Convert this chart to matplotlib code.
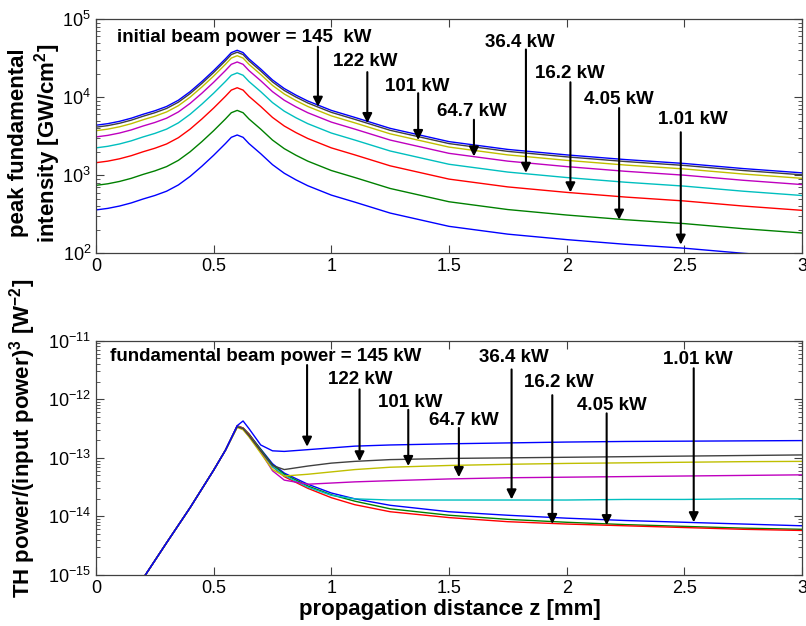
import numpy as np
import matplotlib
matplotlib.use("Agg")
from matplotlib import pyplot as plt
from matplotlib.ticker import LogLocator, NullFormatter

plt.rcParams['font.family'] = ['Liberation Sans', 'DejaVu Sans']
plt.rcParams['mathtext.fontset'] = 'custom'
plt.rcParams['mathtext.rm'] = 'Liberation Sans'
plt.rcParams['mathtext.bf'] = 'Liberation Sans:bold'

# beam powers, listed in plotting order (lowest first)
powers = ['1.01 kW', '4.05 kW', '16.2 kW', '36.4 kW', '64.7 kW', '101 kW', '122 kW', '145 kW']
colors = ['#0000ff', '#008000', '#ff0000', '#00bfbf', '#bf00bf', '#bfbf00', '#404040', '#0000ff']

# top panel: log10 of peak fundamental intensity [GW/cm^2]
z_top = [0, 0.05, 0.1, 0.15, 0.2, 0.25, 0.3, 0.35, 0.4, 0.45, 0.5, 0.55, 0.575, 0.6, 0.625,
         0.65, 0.7, 0.75, 0.8, 0.85, 0.9, 1.0, 1.1, 1.25, 1.5, 1.75, 2.0, 2.25, 2.5, 2.75, 3.0]
logI_1p01 = [2.555, 2.575, 2.605, 2.645, 2.695, 2.74, 2.795, 2.875, 2.985, 3.115, 3.255, 3.405,
             3.485, 3.515, 3.485, 3.405, 3.275, 3.135, 3.025, 2.94, 2.865, 2.745, 2.655, 2.515,
             2.345, 2.245, 2.175, 2.115, 2.065, 2.0, 1.945]
logI_4p05 = [2.87, 2.89, 2.92, 2.96, 3.01, 3.055, 3.11, 3.19, 3.30, 3.43, 3.57, 3.72, 3.80, 3.83,
             3.80, 3.72, 3.59, 3.45, 3.34, 3.255, 3.18, 3.06, 2.97, 2.83, 2.66, 2.56, 2.49, 2.43,
             2.38, 2.315, 2.26]
logI_16p2 = [3.16, 3.18, 3.21, 3.25, 3.30, 3.345, 3.40, 3.48, 3.59, 3.72, 3.86, 4.01, 4.09, 4.12,
             4.09, 4.01, 3.88, 3.74, 3.63, 3.545, 3.47, 3.35, 3.26, 3.12, 2.95, 2.85, 2.78, 2.72,
             2.67, 2.605, 2.55]
logI_36p4 = [3.35, 3.37, 3.40, 3.44, 3.49, 3.535, 3.59, 3.67, 3.78, 3.91, 4.05, 4.20, 4.28, 4.31,
             4.28, 4.20, 4.07, 3.93, 3.82, 3.735, 3.66, 3.54, 3.45, 3.31, 3.14, 3.04, 2.97, 2.91,
             2.86, 2.795, 2.74]
logI_64p7 = [3.49, 3.51, 3.54, 3.58, 3.63, 3.675, 3.73, 3.81, 3.92, 4.05, 4.19, 4.34, 4.42, 4.45,
             4.42, 4.34, 4.21, 4.07, 3.96, 3.875, 3.80, 3.68, 3.59, 3.45, 3.28, 3.18, 3.11, 3.05,
             3.00, 2.935, 2.88]
logI_101 = [3.57, 3.59, 3.62, 3.66, 3.71, 3.755, 3.81, 3.89, 4.00, 4.13, 4.27, 4.42, 4.50, 4.53,
            4.50, 4.42, 4.29, 4.15, 4.04, 3.955, 3.88, 3.76, 3.67, 3.53, 3.36, 3.26, 3.19, 3.13,
            3.08, 3.015, 2.96]
logI_122 = [3.615, 3.635, 3.665, 3.705, 3.755, 3.80, 3.855, 3.935, 4.045, 4.175, 4.315, 4.465,
            4.545, 4.575, 4.545, 4.465, 4.335, 4.195, 4.085, 4.00, 3.925, 3.805, 3.715, 3.575,
            3.405, 3.305, 3.235, 3.175, 3.125, 3.06, 3.005]
logI_145 = [3.64, 3.66, 3.69, 3.73, 3.78, 3.825, 3.88, 3.96, 4.07, 4.20, 4.34, 4.49, 4.57, 4.60,
            4.57, 4.49, 4.36, 4.22, 4.11, 4.025, 3.95, 3.83, 3.74, 3.60, 3.43, 3.33, 3.26, 3.20,
            3.15, 3.085, 3.03]

# bottom panel: log10 of TH power/(input power)^3 [W^-2]
z_bot = [0, 0.1, 0.2, 0.3, 0.4, 0.5, 0.55, 0.6, 0.625, 0.65, 0.7, 0.75, 0.8, 0.9, 1.0, 1.1,
         1.25, 1.5, 1.75, 2.0, 2.25, 2.5, 2.75, 3.0]
logT_1p01 = [-16.3, -15.68, -15.06, -14.45, -13.85, -13.21, -12.87, -12.47, -12.50, -12.60, -12.85,
             -13.10, -13.26, -13.45, -13.60, -13.70, -13.81, -13.92, -13.98, -14.03, -14.07, -14.10,
             -14.13, -14.16]
logT_4p05 = [-16.3, -15.68, -15.06, -14.45, -13.85, -13.21, -12.87, -12.46, -12.49, -12.59, -12.86,
             -13.12, -13.28, -13.48, -13.63, -13.74, -13.87, -13.98, -14.05, -14.10, -14.14, -14.17,
             -14.20, -14.22]
logT_16p2 = [-16.3, -15.68, -15.06, -14.45, -13.85, -13.21, -12.87, -12.45, -12.49, -12.60, -12.88,
             -13.15, -13.32, -13.52, -13.68, -13.80, -13.92, -14.02, -14.09, -14.13, -14.16, -14.19,
             -14.22, -14.24]
logT_36p4 = [-16.3, -15.68, -15.06, -14.45, -13.85, -13.21, -12.87, -12.46, -12.50, -12.62, -12.88,
             -13.15, -13.30, -13.50, -13.64, -13.70, -13.72, -13.72, -13.72, -13.72, -13.71, -13.71,
             -13.70, -13.70]
logT_64p7 = [-16.3, -15.68, -15.06, -14.45, -13.85, -13.21, -12.87, -12.47, -12.51, -12.63, -12.90,
             -13.22, -13.38, -13.45, -13.43, -13.41, -13.39, -13.36, -13.34, -13.33, -13.32, -13.31,
             -13.30, -13.29]
logT_101 = [-16.3, -15.68, -15.06, -14.45, -13.85, -13.21, -12.87, -12.48, -12.52, -12.64, -12.92,
            -13.20, -13.31, -13.28, -13.24, -13.20, -13.16, -13.13, -13.11, -13.095, -13.085,
            -13.075, -13.065, -13.06]
logT_122 = [-16.3, -15.68, -15.06, -14.45, -13.85, -13.21, -12.87, -12.47, -12.50, -12.62, -12.88,
            -13.13, -13.20, -13.14, -13.09, -13.06, -13.03, -13.01, -13.00, -12.99, -12.98, -12.97,
            -12.96, -12.95]
logT_145 = [-16.3, -15.68, -15.06, -14.45, -13.85, -13.21, -12.87, -12.45, -12.37, -12.50, -12.78,
            -12.88, -12.89, -12.86, -12.83, -12.80, -12.78, -12.76, -12.745, -12.73, -12.72, -12.715,
            -12.71, -12.705]

# annotations: label text, text position (z, log10), arrow z, arrow tail / tip (log10)
top_labels = ['initial beam power = 145  kW', '122 kW', '101 kW', '64.7 kW',
              '36.4 kW', '16.2 kW', '4.05 kW', '1.01 kW']
top_text_z = [0.088, 1.007, 1.228, 1.447, 1.652, 1.865, 2.073, 2.387]
top_text_log = [4.76, 4.45, 4.13, 3.815, 4.70, 4.30, 3.965, 3.71]
top_arrow_z = [0.943, 1.153, 1.369, 1.606, 1.827, 2.016, 2.223, 2.485]
top_arrow_tail = [4.645, 4.32, 4.05, 3.71, 4.61, 4.19, 3.86, 3.55]
top_arrow_tip = [3.876, 3.667, 3.45, 3.24, 3.03, 2.78, 2.43, 2.11]

bot_labels = ['fundamental beam power = 145 kW', '122 kW', '101 kW', '64.7 kW',
              '36.4 kW', '16.2 kW', '4.05 kW', '1.01 kW']
bot_text_z = [0.059, 0.985, 1.198, 1.414, 1.627, 1.818, 2.043, 2.408]
bot_text_log = [-11.27, -11.67, -12.06, -12.365, -11.28, -11.71, -12.10, -11.32]
bot_arrow_z = [0.897, 1.12, 1.327, 1.542, 1.766, 1.939, 2.17, 2.54]
bot_arrow_tail = [-11.415, -11.83, -12.18, -12.49, -11.49, -11.93, -12.24, -11.47]
bot_arrow_tip = [-12.81, -13.06, -13.14, -13.33, -13.71, -14.13, -14.15, -14.10]


def style_axes(ax, ymin, ymax):
    ax.set_yscale('log')
    ax.set_xlim(0, 3)
    ax.set_ylim(ymin, ymax)
    ax.set_xticks([0, 0.5, 1, 1.5, 2, 2.5, 3])
    ax.set_xticklabels(['0', '0.5', '1', '1.5', '2', '2.5', '3'])
    ax.yaxis.set_major_locator(LogLocator(base=10, numticks=10))
    ax.yaxis.set_minor_locator(LogLocator(base=10, subs=np.arange(2, 10), numticks=10))
    ax.yaxis.set_minor_formatter(NullFormatter())
    ax.tick_params(which='both', direction='in', top=True, right=True, labelsize=13,
                   color='#404040')
    ax.tick_params(which='major', length=6, width=0.8)
    ax.tick_params(which='minor', length=3, width=0.6)
    for s in ax.spines.values():
        s.set_color('#404040')
        s.set_linewidth(0.9)


def annotate(ax, labels, tz, tlog, az, atail, atip):
    for i in range(len(labels)):
        ax.text(tz[i], 10 ** tlog[i], labels[i], fontsize=13.5, fontweight='bold',
                ha='left', va='center')
        ax.annotate('', xy=(az[i], 10 ** atip[i]), xytext=(az[i], 10 ** atail[i]),
                    arrowprops=dict(arrowstyle='-|>', color='k', lw=1.5,
                                    mutation_scale=14, shrinkA=0, shrinkB=0))


def main():
    fig = plt.figure(figsize=(8.06, 6.26), dpi=100)
    ax1 = fig.add_axes([0.1191, 0.5954, 0.8759, 0.3742])
    ax2 = fig.add_axes([0.1191, 0.0815, 0.8759, 0.3742])

    top_series = [logI_1p01, logI_4p05, logI_16p2, logI_36p4, logI_64p7, logI_101, logI_122, logI_145]
    for vals, c in zip(top_series, colors):
        ax1.plot(z_top, 10 ** np.array(vals), color=c, lw=1.0)
    style_axes(ax1, 1e2, 1e5)
    annotate(ax1, top_labels, top_text_z, top_text_log, top_arrow_z, top_arrow_tail, top_arrow_tip)

    bot_series = [logT_1p01, logT_4p05, logT_16p2, logT_36p4, logT_64p7, logT_101, logT_122, logT_145]
    for vals, c in zip(bot_series, colors):
        ax2.plot(z_bot, 10 ** np.array(vals), color=c, lw=1.0)
    style_axes(ax2, 1e-15, 1e-11)
    annotate(ax2, bot_labels, bot_text_z, bot_text_log, bot_arrow_z, bot_arrow_tail, bot_arrow_tip)

    fig.text(0.044, 0.7716, 'peak fundamental\nintensity [GW/cm$^{\\mathbf{2}}$]', rotation=90,
             ha='center', va='center', multialignment='center', fontsize=16, fontweight='bold',
             linespacing=1.15)
    fig.text(0.028, 0.2995, 'TH power/(input power)$^{\\mathbf{3}}$ [W$^{\\mathbf{-2}}$]',
             rotation=90, ha='center', va='center', fontsize=16, fontweight='bold')
    fig.text(0.558, 0.0256, 'propagation distance z [mm]', ha='center', va='center',
             fontsize=16, fontweight='bold')

    fig.savefig('out.png', dpi=100)


if __name__ == '__main__':
    main()
